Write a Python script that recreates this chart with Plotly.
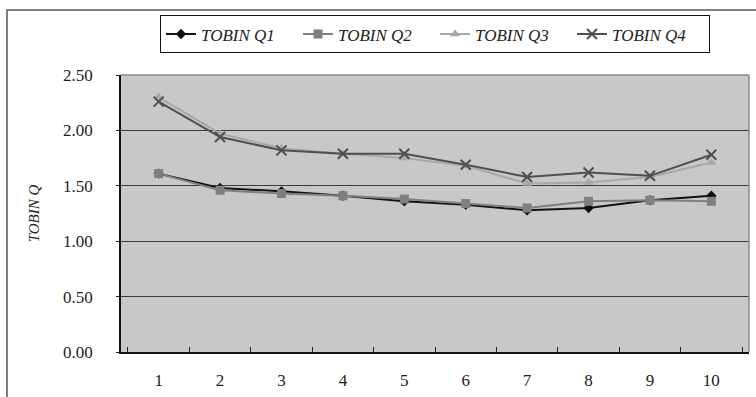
import plotly.graph_objects as go

categories = ["1", "2", "3", "4", "5", "6", "7", "8", "9", "10"]
q1 = [1.61, 1.48, 1.45, 1.41, 1.36, 1.33, 1.28, 1.30, 1.37, 1.41]
q2 = [1.61, 1.46, 1.43, 1.41, 1.38, 1.34, 1.30, 1.36, 1.37, 1.36]
q3 = [2.30, 1.97, 1.84, 1.79, 1.75, 1.68, 1.52, 1.53, 1.58, 1.71]
q4 = [2.26, 1.94, 1.82, 1.79, 1.79, 1.69, 1.58, 1.62, 1.59, 1.78]
series_names = ["TOBIN Q1", "TOBIN Q2", "TOBIN Q3", "TOBIN Q4"]
y_ticks = [0, 0.5, 1.0, 1.5, 2.0, 2.5]
y_ticktext = ["0.00", "0.50", "1.00", "1.50", "2.00", "2.50"]

FONT = "Liberation Serif"

styles = [
    dict(color="#111111", symbol="diamond", size=8),
    dict(color="#7f7f7f", symbol="square", size=9),
    dict(color="#a8a8a8", symbol="triangle-up", size=9),
    dict(color="#4f4f4f", symbol="x-thin", size=10),
]

fig = go.Figure()
for name, vals, st in zip(series_names, [q1, q2, q3, q4], styles):
    fig.add_trace(go.Scatter(
        x=categories, y=vals, name=name, mode="lines+markers",
        line=dict(color=st["color"], width=2),
        marker=dict(symbol=st["symbol"], size=st["size"], color=st["color"],
                    line=dict(color=st["color"], width=2 if st["symbol"] == "x-thin" else 0)),
    ))

fig.update_layout(
    width=756, height=397,
    margin=dict(l=121, r=7, t=75, b=45, autoexpand=False),
    paper_bgcolor="white",
    plot_bgcolor="#c7c8ca",
    font=dict(family=FONT, color="#222222"),
    showlegend=True,
    legend=dict(
        orientation="h", x=0.5, xanchor="center", y=1.215, yanchor="top",
        bordercolor="#111111", borderwidth=1, bgcolor="white",
        font=dict(family=FONT, size=17, style="italic"),
        itemwidth=30, entrywidth=92, entrywidthmode="pixels",
    ),
    xaxis=dict(
        type="category", tickson="boundaries", ticks="inside", ticklen=5,
        tickcolor="#222222", showline=True, linecolor="#111111", linewidth=1.5,
        showgrid=False, tickfont=dict(family=FONT, size=17),
        ticklabelstandoff=12, automargin=False,
    ),
    yaxis=dict(
        range=[0, 2.5], tickvals=y_ticks, ticktext=y_ticktext,
        ticks="outside", ticklen=3, tickcolor="#222222",
        showline=True, linecolor="#111111", linewidth=1.5,
        showgrid=True, gridcolor="#3a3a3a", gridwidth=1,
        zeroline=False, tickfont=dict(family=FONT, size=17),
        ticklabelstandoff=20, automargin=False,
        title=dict(text="TOBIN Q", font=dict(family=FONT, size=15, style="italic"),
                   standoff=20),
    ),
    shapes=[
        dict(type="line", xref="paper", yref="paper", x0=0, x1=1, y0=1, y1=1,
             line=dict(color="#8a8a8a", width=1.5), layer="above"),
        dict(type="line", xref="paper", yref="paper", x0=1, x1=1, y0=0, y1=1,
             line=dict(color="#8a8a8a", width=1.5), layer="above"),
        dict(type="rect", xref="paper", yref="paper", x0=-0.1815, x1=1.1,
             y0=-0.3, y1=1.2347, line=dict(color="#555555", width=1.5),
             fillcolor="rgba(0,0,0,0)", layer="above"),
    ],
)

fig.write_html(
    "out.html",
    config={"displayModeBar": False},
    post_script="document.body.style.margin='0';document.body.style.overflow='hidden';",
)
